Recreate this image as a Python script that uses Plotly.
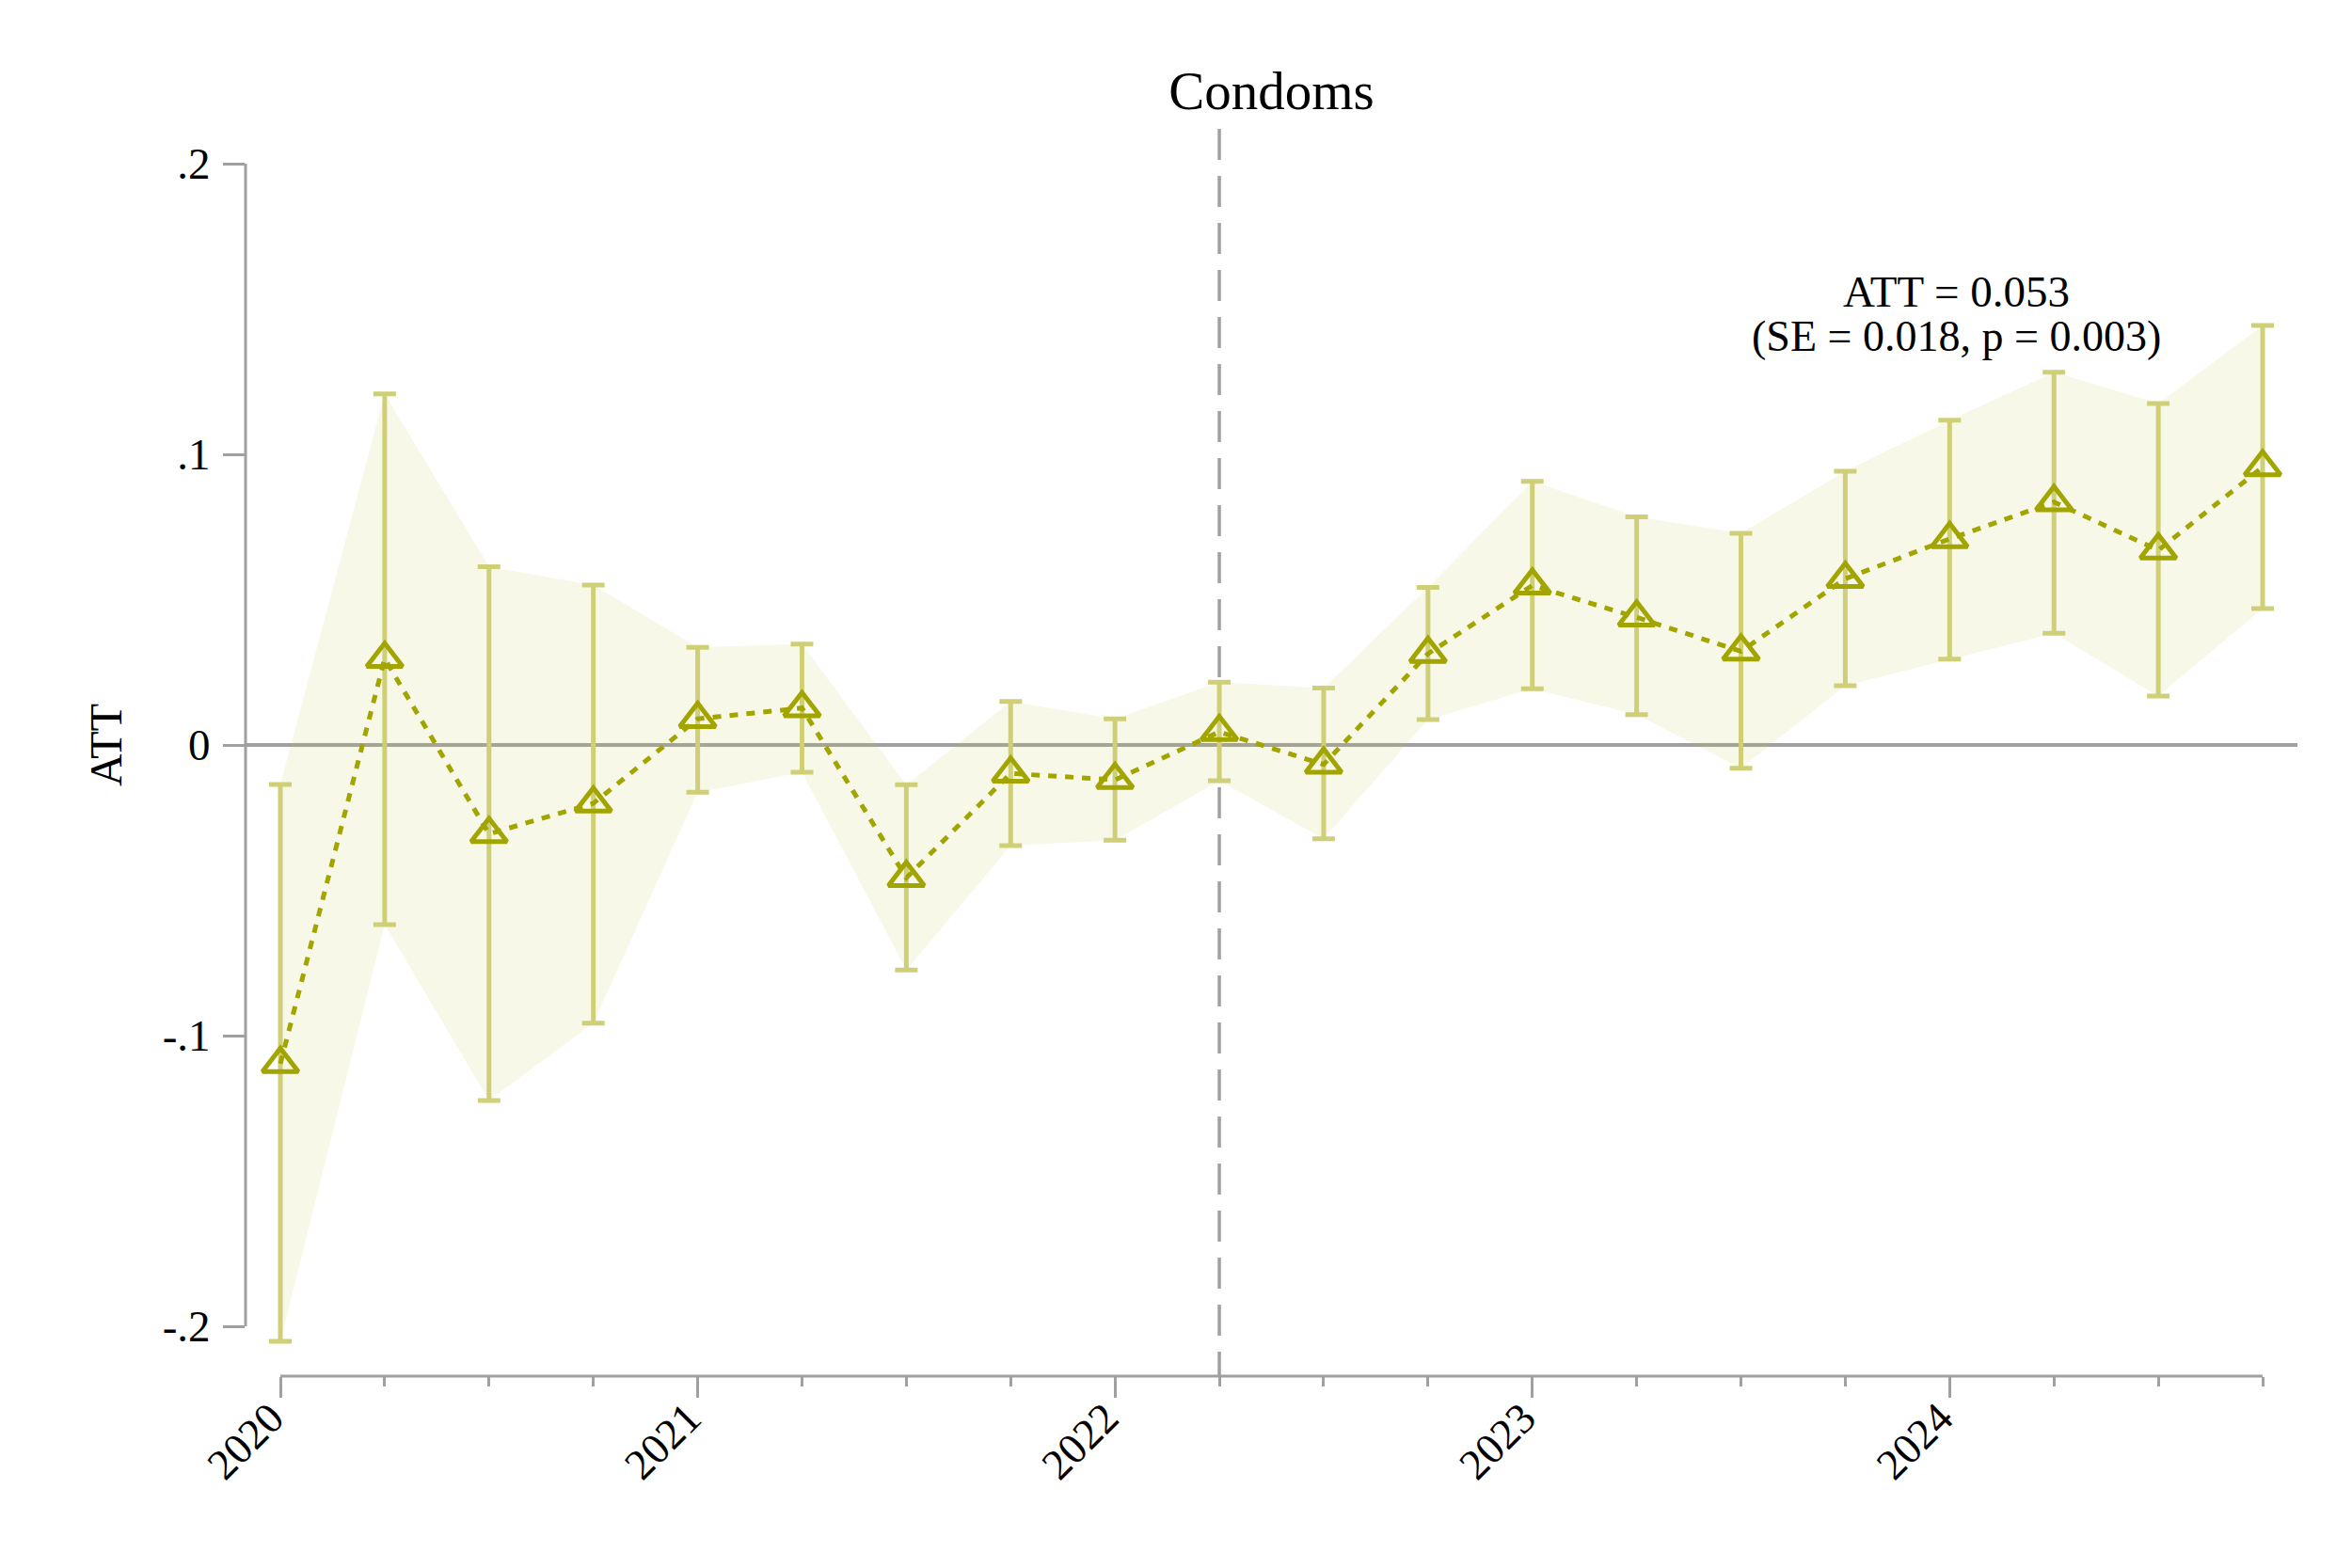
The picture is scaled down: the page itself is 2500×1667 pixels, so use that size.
import plotly.graph_objects as go

# ---- data ----
quarters = [2020.00, 2020.25, 2020.50, 2020.75,
            2021.00, 2021.25, 2021.50, 2021.75,
            2022.00, 2022.25, 2022.50, 2022.75,
            2023.00, 2023.25, 2023.50, 2023.75,
            2024.00, 2024.25, 2024.50, 2024.75]
att = [-0.1097, 0.0297, -0.0306, -0.0201, 0.0090, 0.0127, -0.0457, -0.0098,
       -0.0120, 0.0045, -0.0067, 0.0314, 0.0549, 0.0439, 0.0322, 0.0572,
       0.0709, 0.0836, 0.0670, 0.0956]
ci_hi = [-0.0136, 0.1208, 0.0613, 0.0550, 0.0336, 0.0347, -0.0137, 0.0150,
         0.0090, 0.0216, 0.0196, 0.0542, 0.0907, 0.0785, 0.0728, 0.0942,
         0.1117, 0.1282, 0.1175, 0.1443]
ci_lo = [-0.2052, -0.0618, -0.1223, -0.0957, -0.0163, -0.0094, -0.0774, -0.0346,
         -0.0328, -0.0123, -0.0323, 0.0087, 0.0193, 0.0104, -0.0080, 0.0204,
         0.0295, 0.0384, 0.0168, 0.0469]
year_ticks = [2020, 2021, 2022, 2023, 2024]
year_labels = ["2020", "2021", "2022", "2023", "2024"]
y_ticks = [-0.2, -0.1, 0, 0.1, 0.2]
y_labels = ["-.2", "-.1", "0", ".1", ".2"]
treat_start = 2022.25
title_text = "Condoms"
att_line1 = "ATT = 0.053"
att_line2 = "(SE = 0.018, p = 0.003)"

FONT = "Liberation Serif"
OLIVE = "#A2A400"
BAR = "#CFCF78"
GRAY = "#a0a0a0"

err_plus = [h - a for h, a in zip(ci_hi, att)]
err_minus = [a - l for a, l in zip(att, ci_lo)]

fig = go.Figure()

# CI band
fig.add_trace(go.Scatter(
    x=quarters + quarters[::-1], y=ci_hi + ci_lo[::-1],
    mode="lines", line=dict(width=0), fill="toself",
    fillcolor="rgba(200,200,80,0.13)", hoverinfo="skip", showlegend=False))

# error bars
fig.add_trace(go.Scatter(
    x=quarters, y=att, mode="markers",
    marker=dict(size=1, color="rgba(0,0,0,0)"),
    error_y=dict(type="data", array=err_plus, arrayminus=err_minus,
                 color=BAR, thickness=5, width=12),
    showlegend=False))

# dotted line
fig.add_trace(go.Scatter(
    x=quarters, y=att, mode="lines",
    line=dict(color=OLIVE, width=5, dash="9px,9px"),
    showlegend=False))

# markers
fig.add_trace(go.Scatter(
    x=quarters, y=att, mode="markers",
    marker=dict(symbol="triangle-up-open", size=33, color=OLIVE,
                line=dict(color=OLIVE, width=5)),
    showlegend=False))

W, H = 2500, 1667
left, right, top, bottom = 261, 2442, 174, 1463
px_per_year = (2405 - 298) / 4.75
x0 = 2020 - (298 - left) / px_per_year
x1 = x0 + (right - left) / px_per_year
px_per_unit = (1410 - 174) / 0.4
y1 = 0.2
y0 = y1 - (bottom - top) / px_per_unit

fig.update_layout(
    width=W, height=H,
    margin=dict(l=left, r=W - right, t=top, b=H - bottom, pad=0),
    paper_bgcolor="white", plot_bgcolor="white",
    font=dict(family=FONT, size=46, color="black"),
    title=dict(text=title_text, x=0.5, xref="paper", xanchor="center",
               y=1 - 96 / H, yref="container", yanchor="middle",
               font=dict(family=FONT, size=57, color="black")),
    xaxis=dict(range=[x0, x1], showgrid=False, zeroline=False, showline=False,
               tickmode="array", tickvals=year_ticks, ticktext=year_labels,
               ticks="outside", ticklen=22, tickwidth=3, tickcolor=GRAY,
               tickangle=-45, tickfont=dict(family=FONT, size=46),
               ticklabelstandoff=-24, ticklabelshift=-10,
               minor=dict(tickmode="array", tickvals=quarters, ticks="outside",
                          ticklen=10, tickwidth=3, tickcolor=GRAY, showgrid=False)),
    yaxis=dict(range=[y0, y1], showgrid=False, showline=False,
               zeroline=True, zerolinecolor=GRAY, zerolinewidth=3.5,
               tickmode="array", tickvals=y_ticks, ticktext=y_labels,
               ticks="outside", ticklen=23, tickwidth=3, tickcolor=GRAY,
               ticklabelstandoff=4,
               tickfont=dict(family=FONT, size=47)),
    showlegend=False,
)

# axis lines (span only the tick range)
fig.add_shape(type="line", xref="paper", yref="y", x0=0, x1=0, y0=-0.2, y1=0.2,
              line=dict(color=GRAY, width=3), layer="above")
fig.add_shape(type="line", xref="x", yref="paper", x0=2020, x1=2024.75, y0=0, y1=0,
              line=dict(color=GRAY, width=3), layer="above")
# treatment start
fig.add_shape(type="line", xref="x", yref="paper", x0=treat_start, x1=treat_start,
              y0=(bottom - 137) / (bottom - top), y1=0,
              line=dict(color=GRAY, width=3.5, dash="33px,17px"), layer="below")

# y-axis title
fig.add_annotation(text="ATT", xref="paper", yref="y",
                   x=(112 - left) / (right - left), y=0, textangle=-90,
                   showarrow=False, xanchor="center", yanchor="middle",
                   font=dict(family=FONT, size=48, color="black"))
# ATT summary
ann_x = 2020 + (2079 - 298) / px_per_year
fig.add_annotation(text=att_line1, xref="x", yref="y", x=ann_x,
                   y=(792 - 310) / px_per_unit, showarrow=False,
                   xanchor="center", yanchor="middle",
                   font=dict(family=FONT, size=47, color="black"))
fig.add_annotation(text=att_line2, xref="x", yref="y", x=ann_x,
                   y=(792 - 357) / px_per_unit, showarrow=False,
                   xanchor="center", yanchor="middle",
                   font=dict(family=FONT, size=46, color="black"))

fig.write_html("out.html")
